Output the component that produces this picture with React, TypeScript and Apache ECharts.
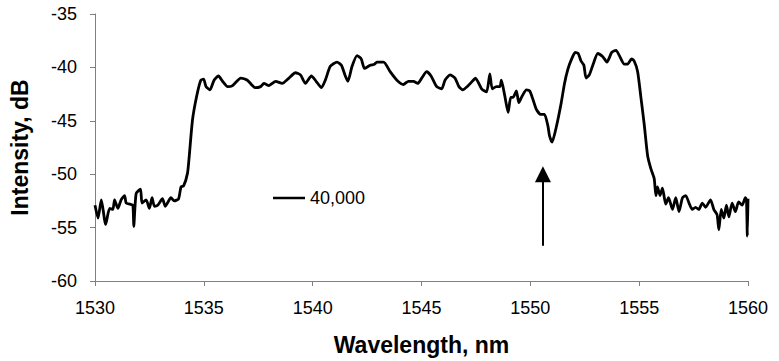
import React, { useEffect, useRef } from "react";
import * as echarts from "echarts";

// Spectrum trace: wavelength (nm) and intensity (dB)
const wavelength = [
  1530.0, 1530.14, 1530.29, 1530.49, 1530.67, 1530.82, 1530.9, 1531.05, 1531.2, 1531.36,
  1531.43, 1531.6, 1531.74, 1531.78, 1531.89, 1532.09, 1532.16, 1532.35, 1532.5, 1532.62,
  1532.73, 1532.88, 1533.1, 1533.23, 1533.49, 1533.64, 1533.84, 1533.95, 1534.07, 1534.25,
  1534.33, 1534.48, 1534.67, 1534.86, 1534.99, 1535.1, 1535.28, 1535.47, 1535.67, 1535.86,
  1536.09, 1536.32, 1536.7, 1537.0, 1537.23, 1537.35, 1537.61, 1537.76, 1537.99, 1538.3,
  1538.6, 1538.91, 1539.21, 1539.44, 1539.67, 1539.94, 1540.16, 1540.4, 1540.58, 1540.81,
  1541.12, 1541.32, 1541.5, 1541.62, 1541.81, 1542.04, 1542.23, 1542.38, 1542.64, 1542.84,
  1542.95, 1543.26, 1543.56, 1543.87, 1544.17, 1544.4, 1544.63, 1544.83, 1545.01, 1545.24,
  1545.44, 1545.7, 1545.93, 1546.08, 1546.31, 1546.54, 1546.72, 1546.89, 1547.15, 1547.38,
  1547.48, 1547.76, 1547.99, 1548.14, 1548.25, 1548.44, 1548.6, 1548.67, 1548.83, 1548.98,
  1549.1, 1549.21, 1549.36, 1549.47, 1549.62, 1549.82, 1549.97, 1550.12, 1550.27, 1550.47,
  1550.65, 1550.81, 1550.88, 1551.0, 1551.19, 1551.42, 1551.57, 1551.72, 1551.88, 1552.06,
  1552.2, 1552.33, 1552.46, 1552.56, 1552.71, 1552.87, 1553.1, 1553.33, 1553.52, 1553.74,
  1553.94, 1554.09, 1554.32, 1554.47, 1554.65, 1554.77, 1554.93, 1555.08, 1555.23, 1555.39,
  1555.54, 1555.69, 1555.77, 1555.84, 1555.96, 1556.07, 1556.22, 1556.35, 1556.53, 1556.68,
  1556.83, 1556.99, 1557.14, 1557.29, 1557.44, 1557.59, 1557.74, 1557.9, 1558.05, 1558.28,
  1558.43, 1558.58, 1558.66, 1558.77, 1558.89, 1559.01, 1559.12, 1559.27, 1559.42, 1559.57,
  1559.73, 1559.88, 1559.93, 1559.97, 1560.0,
];

const intensity = [
  -52.9, -54.1, -52.4, -54.7, -53.2, -53.3, -52.4, -53.2, -52.4, -52.0,
  -52.7, -52.8, -52.9, -54.9, -51.8, -51.4, -52.7, -52.4, -53.2, -52.2,
  -53.0, -52.9, -52.3, -53.0, -52.2, -52.5, -52.3, -51.2, -51.1, -49.9,
  -48.3, -44.9, -42.7, -41.2, -41.1, -41.8, -42.1, -41.2, -40.8, -41.3,
  -41.8, -41.7, -41.0, -41.2, -41.7, -41.9, -41.8, -41.5, -41.7, -41.3,
  -41.5, -41.0, -40.5, -40.7, -41.5, -40.8, -41.3, -41.9, -41.2, -39.9,
  -39.5, -39.8, -40.8, -41.3, -39.9, -38.9, -39.2, -40.1, -39.8, -39.7,
  -39.5, -39.5, -40.4, -41.2, -41.6, -41.3, -41.3, -41.5, -41.0, -40.4,
  -40.8, -41.8, -42.0, -41.2, -40.7, -41.0, -41.8, -42.1, -41.7, -41.2,
  -41.0, -42.0, -42.3, -40.6, -42.0, -41.8, -41.8, -41.2, -42.7, -44.2,
  -42.8, -42.8, -42.2, -43.3, -42.7, -42.1, -42.2, -43.0, -43.9, -44.4,
  -44.4, -45.5, -46.4, -47.0, -45.6, -43.3, -41.5, -40.2, -39.3, -38.6,
  -38.7, -39.4, -39.8, -41.0, -40.7, -39.8, -38.7, -39.0, -39.5, -38.6,
  -38.4, -38.9, -39.7, -39.7, -39.2, -39.4, -40.4, -42.8, -45.3, -48.3,
  -49.5, -50.4, -52.0, -51.2, -52.0, -51.3, -52.8, -52.2, -53.3, -52.2,
  -53.5, -52.2, -52.0, -52.7, -53.3, -53.1, -53.3, -52.7, -53.1, -52.4,
  -53.3, -53.8, -55.2, -53.3, -54.1, -52.9, -54.0, -52.7, -53.5, -52.6,
  -52.9, -52.2, -52.4, -55.8, -52.3,
];

const seriesName = "40,000";

// Axis ranges and tick spacing
const xRange = [1530, 1560];
const xStep = 5;
const yRange = [-60, -35];
const yStep = 5;

// Arrow marking the dip: wavelength, tail and head intensity
const arrowX = 1550.58;
const arrowFrom = -56.7;
const arrowTo = -50.0;

export default function App() {
  const ref = useRef<HTMLDivElement>(null);

  useEffect(() => {
    if (!ref.current) return;
    const chart = echarts.init(ref.current, null, { renderer: "svg" });
    const font = "Arial, 'Liberation Sans', sans-serif";
    const axisGray = "#808080";

    chart.setOption({
      animation: false,
      backgroundColor: "#ffffff",
      textStyle: { fontFamily: font },
      grid: { left: 92, right: 31, top: 14, bottom: 72, containLabel: false },
      legend: {
        show: true,
        data: [{ name: seriesName, icon: "rect" }],
        left: 268,
        top: 184,
        itemWidth: 32,
        itemHeight: 2.5,
        itemStyle: { color: "#000" },
        textStyle: { color: "#000", fontSize: 18, fontFamily: font },
      },
      xAxis: {
        type: "value",
        min: xRange[0],
        max: xRange[1],
        interval: xStep,
        name: "Wavelength, nm",
        nameLocation: "middle",
        nameGap: 52,
        nameTextStyle: { color: "#000", fontSize: 23, fontWeight: "bold", fontFamily: font },
        axisLine: { show: true, lineStyle: { color: axisGray, width: 1 } },
        axisTick: { show: true, inside: false, length: 5, lineStyle: { color: axisGray } },
        axisLabel: {
          color: "#000",
          fontSize: 18,
          margin: 18,
          fontFamily: font,
          formatter: (v: number) => String(v),
        },
        splitLine: { show: false },
      },
      yAxis: {
        type: "value",
        min: yRange[0],
        max: yRange[1],
        interval: yStep,
        name: "Intensity, dB",
        nameLocation: "middle",
        nameGap: 64,
        nameTextStyle: { color: "#000", fontSize: 23, fontWeight: "bold", fontFamily: font },
        axisLine: { show: true, lineStyle: { color: axisGray, width: 1 } },
        axisTick: { show: true, inside: false, length: 5, lineStyle: { color: axisGray } },
        axisLabel: {
          color: "#000",
          fontSize: 18,
          margin: 18,
          fontFamily: font,
          formatter: (v: number) => String(v),
        },
        splitLine: { show: false },
      },
      series: [
        {
          name: seriesName,
          type: "line",
          data: wavelength.map((w, i) => [w, intensity[i]]),
          symbol: "none",
          showSymbol: false,
          smooth: 0.2,
          lineStyle: { color: "#000", width: 2.8 },
          itemStyle: { color: "#000" },
          markLine: {
            silent: true,
            symbol: ["none", "triangle"],
            symbolSize: 16,
            label: { show: false },
            lineStyle: { color: "#000", width: 2, type: "solid" },
            itemStyle: { color: "#000" },
            data: [[{ coord: [arrowX, arrowFrom] }, { coord: [arrowX, arrowTo] }]],
          },
        },
      ],
    });

    return () => chart.dispose();
  }, []);

  return (
    <div
      ref={ref}
      style={{ position: "fixed", left: 0, top: 0, width: 779, height: 361 }}
    />
  );
}
